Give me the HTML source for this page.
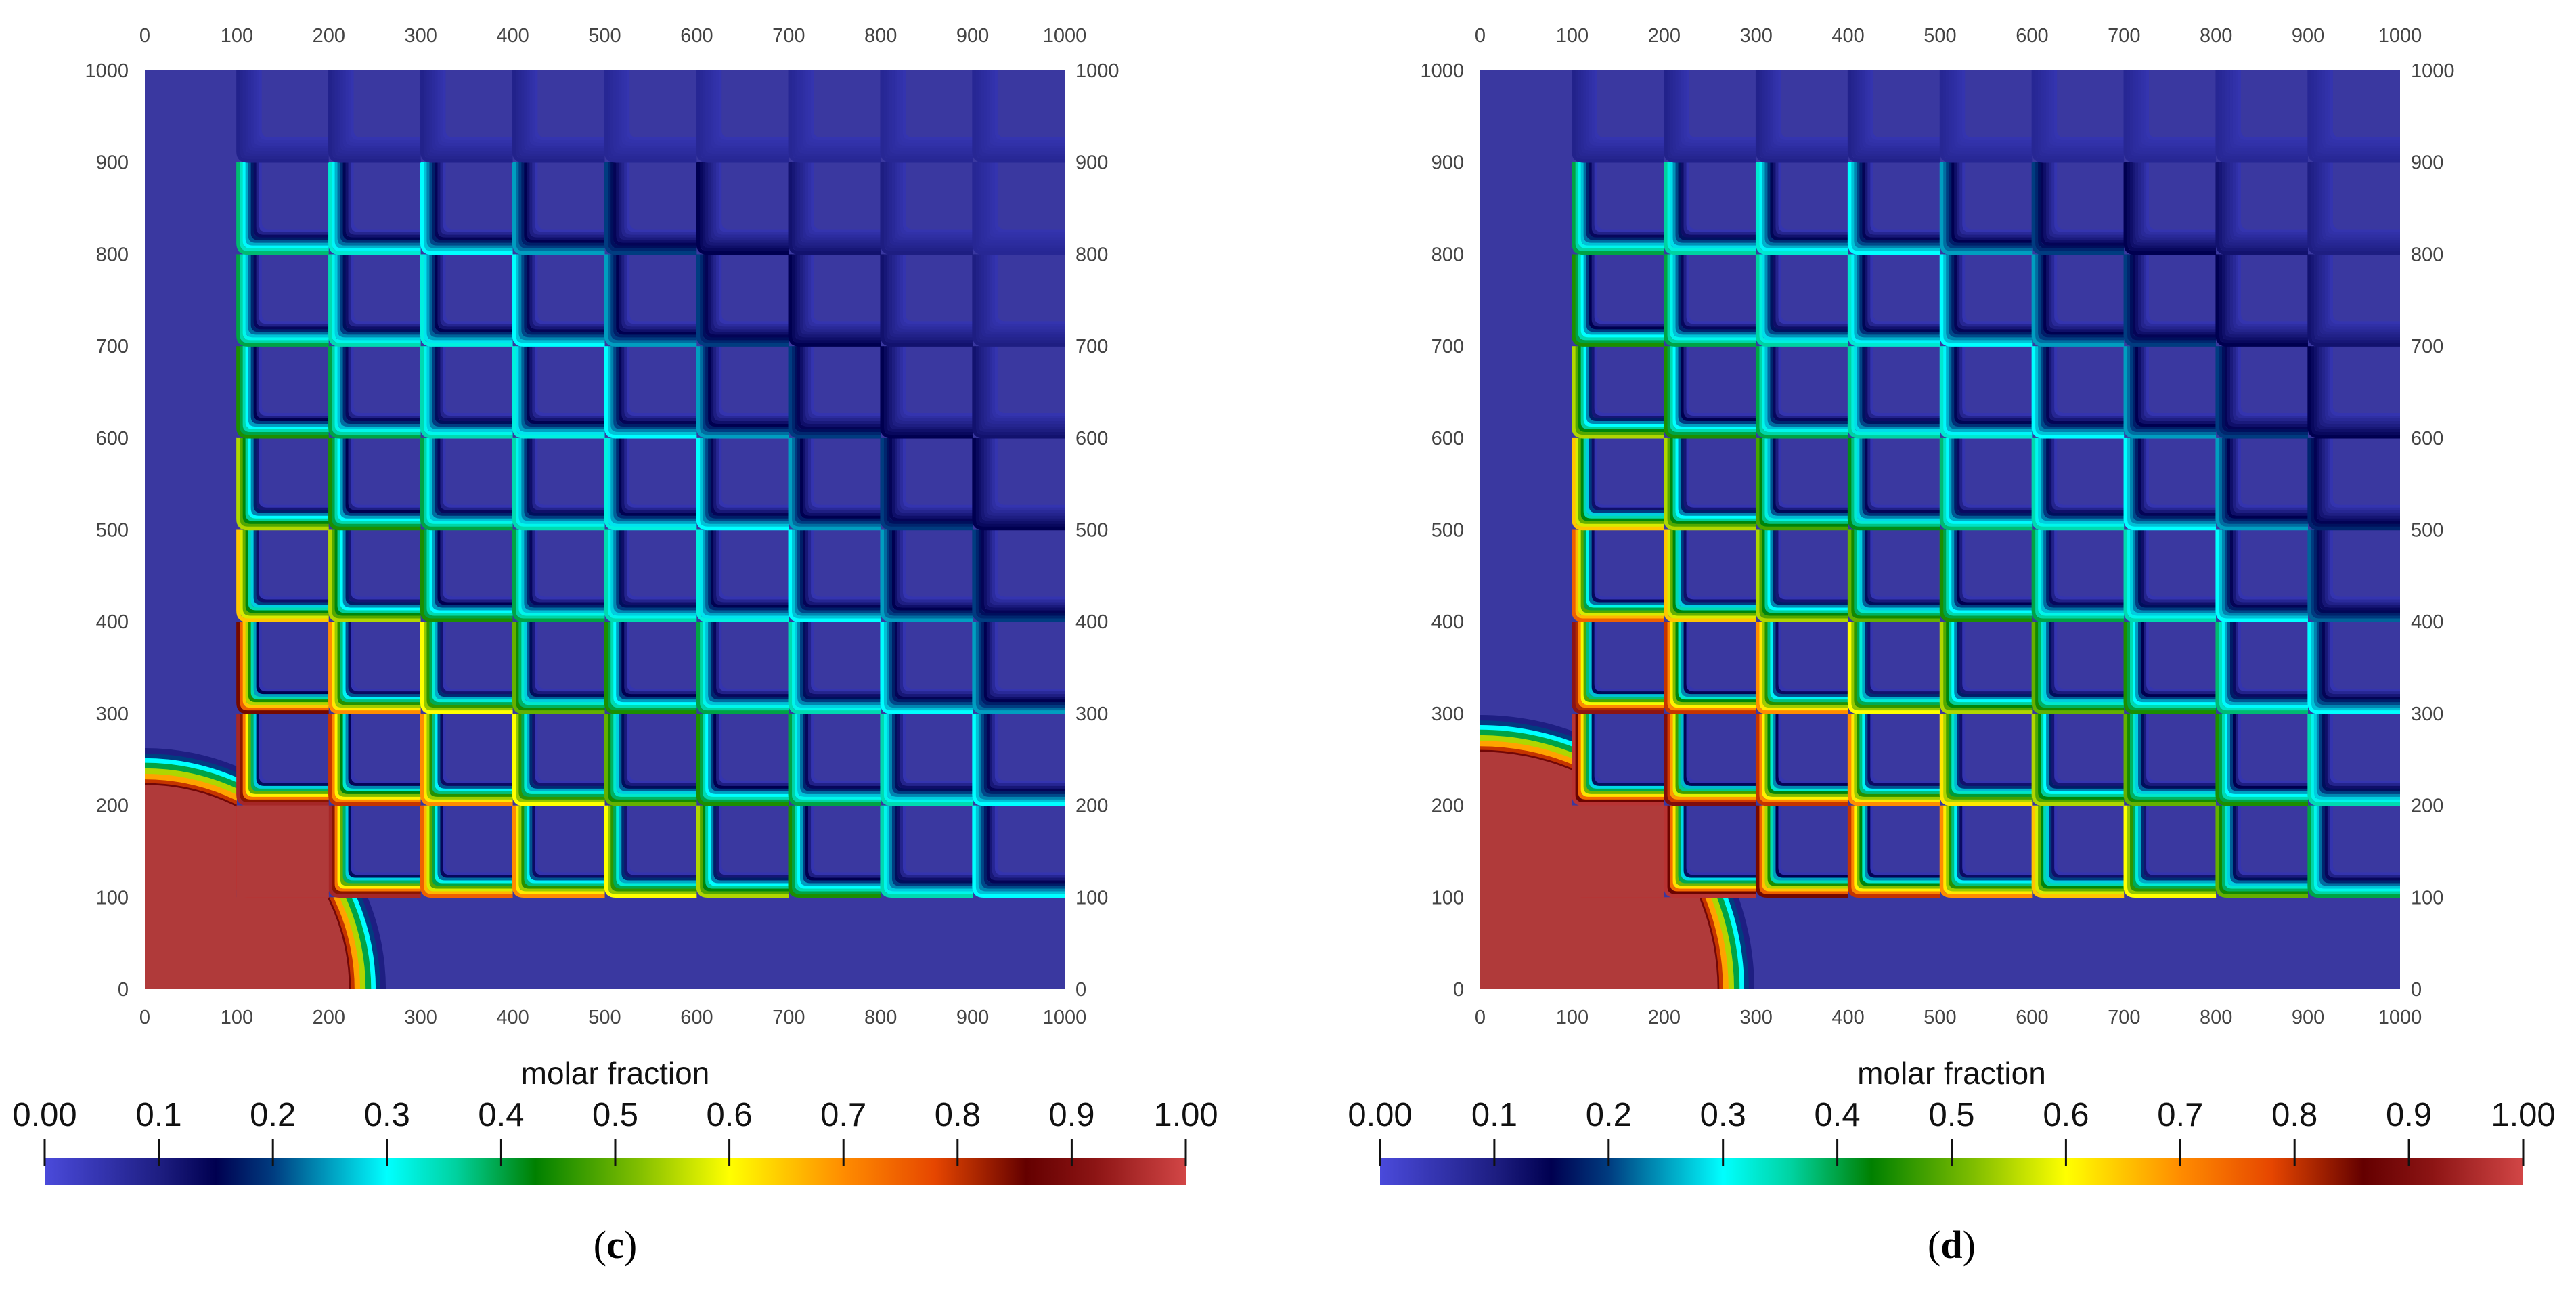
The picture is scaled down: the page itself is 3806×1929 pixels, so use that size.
<!DOCTYPE html>
<html><head><meta charset="utf-8">
<style>
html,body{margin:0;padding:0;background:#fff;}
svg{display:block;}
</style></head>
<body>
<svg id="fig" width="3806" height="1929" viewBox="0 0 3806 1929" xmlns="http://www.w3.org/2000/svg" font-family="Liberation Sans, sans-serif"></svg>
<script>
// ---- data ----
const tickValues = [0,100,200,300,400,500,600,700,800,900,1000];
const cbTicks = [0.0,0.1,0.2,0.3,0.4,0.5,0.6,0.7,0.8,0.9,1.0];
const cbLabels = ["0.00","0.1","0.2","0.3","0.4","0.5","0.6","0.7","0.8","0.9","1.00"];
// rows: y=100..200 (row0) up to y=900..1000 (row8); cols x=100..1000
const valuesC = [
 [0.97,0.95,0.75,0.70,0.60,0.55,0.45,0.35,0.30],
 [0.95,0.80,0.70,0.60,0.50,0.45,0.40,0.35,0.30],
 [0.85,0.70,0.60,0.50,0.45,0.40,0.35,0.30,0.25],
 [0.65,0.55,0.45,0.40,0.35,0.32,0.30,0.25,0.20],
 [0.55,0.45,0.40,0.35,0.32,0.30,0.25,0.20,0.15],
 [0.45,0.40,0.35,0.32,0.30,0.25,0.20,0.15,0.12],
 [0.40,0.35,0.32,0.30,0.25,0.20,0.15,0.12,0.10],
 [0.38,0.33,0.30,0.25,0.20,0.15,0.12,0.10,0.08],
 [0.09,0.09,0.09,0.09,0.08,0.08,0.08,0.08,0.08]
];
const valuesD = [
 [0.97,0.97,0.85,0.80,0.70,0.65,0.60,0.50,0.40],
 [0.97,0.90,0.80,0.70,0.62,0.55,0.50,0.45,0.35],
 [0.92,0.80,0.70,0.60,0.55,0.50,0.45,0.38,0.30],
 [0.75,0.65,0.55,0.50,0.45,0.40,0.35,0.30,0.22],
 [0.65,0.55,0.48,0.42,0.38,0.35,0.30,0.25,0.18],
 [0.55,0.45,0.40,0.36,0.33,0.30,0.25,0.20,0.15],
 [0.45,0.40,0.36,0.33,0.30,0.25,0.20,0.15,0.12],
 [0.40,0.36,0.33,0.30,0.25,0.20,0.15,0.12,0.10],
 [0.09,0.09,0.09,0.09,0.08,0.08,0.08,0.08,0.08]
];
const radiusC = 222;
const radiusD = 258;

const cmap = [
 [0.00,[74,74,219]],[0.10,[30,30,130]],[0.15,[0,0,80]],[0.20,[0,60,128]],
 [0.30,[0,255,255]],[0.36,[0,210,160]],[0.43,[0,128,0]],[0.52,[128,190,0]],
 [0.60,[255,255,0]],[0.70,[255,140,0]],[0.78,[230,70,0]],[0.86,[100,0,0]],
 [0.92,[140,20,20]],[1.00,[210,70,70]]
];
function cm(v){
  v=Math.max(0,Math.min(1,v));
  for(let i=1;i<cmap.length;i++){
    if(v<=cmap[i][0]){
      const a=cmap[i-1],b=cmap[i],t=(v-a[0])/(b[0]-a[0]);
      const c=a[1].map((x,k)=>Math.round(x+(b[1][k]-x)*t));
      return `rgb(${c[0]},${c[1]},${c[2]})`;
    }
  }
  return 'rgb(210,70,70)';
}
const NS="http://www.w3.org/2000/svg";
const svg=document.getElementById('fig');
function el(tag,attrs,parent){const e=document.createElementNS(NS,tag);for(const k in attrs)e.setAttribute(k,attrs[k]);(parent||svg).appendChild(e);return e;}
const BG='rgb(58,56,160)';
const RED='rgb(176,58,58)';

function panel(id,ox,values,radius,label,cbx0,cbx1){
  const x0=ox, x1=ox+1359, y0=1461, y1=104;
  const sx=v=>x0+(x1-x0)*v/1000;
  const sy=v=>y0-(y0-y1)*v/1000;
  const g=el('g',{});
  
  
  const clipId='clip-'+id;
  const cp=el('clipPath',{id:clipId},g); el('rect',{x:x0,y:y1,width:x1-x0,height:y0-y1},cp);
  const pg=el('g',{'clip-path':`url(#${clipId})`},g);
  const bg=el('rect',{x:x0,y:y1,width:x1-x0,height:y0-y1,fill:BG},pg);
  
  
  const rings=[[0.1,40],[0.2,34],[0.3,29],[0.4,24],[0.55,18],[0.68,12],[0.8,6],[0.88,2]];
  const cg=el('g',{},pg);
  
  
  rings.forEach(r=>{
    const rr=(radius+r[1])*(x1-x0)/1000;
    el('circle',{cx:x0,cy:y0,r:rr,fill:cm(r[0])},cg);
  });
  el('circle',{cx:x0,cy:y0,r:radius*(x1-x0)/1000,fill:RED},cg);
  const cw=(x1-x0)/10;
  for(let r=0;r<values.length;r++){
    for(let c=0;c<values[r].length;c++){
      const v=values[r][c];
      const L=sx(100+c*100), R=sx(200+c*100), B=sy(100+r*100), T=sy(200+r*100);
      const cell=el('g',{},pg);
      
      
      el('rect',{x:L,y:T,width:cw,height:B-T,fill:BG},cell);
      const n=9, step=4, vend=0.05;
      for(let k=n-1;k>=0;k--){
        const d=2+k*step;
        const val=v-(v-vend)*(k/(n-1));
        const rad=14;
        const p=`M${L+d},${T} L${L+d},${B-d-rad} Q${L+d},${B-d} ${L+d+rad},${B-d} L${R},${B-d}`;
        el('path',{d:p,fill:'none',stroke:cm(val),'stroke-width':step+1.5},cell);
      }
    }
  }
  const rb=el('rect',{x:sx(100),y:sy(200),width:cw,height:cw,fill:RED},pg);
  
  
  const tg=el('g',{'font-size':29,fill:'#444'},g);
  
  
  tickValues.forEach(t=>{
    let e=el('text',{x:sx(t),y:62,'text-anchor':'middle'},tg); e.textContent=t;
    e=el('text',{x:sx(t),y:1512,'text-anchor':'middle'},tg); e.textContent=t;
    e=el('text',{x:x0-24,y:sy(t)+10,'text-anchor':'end'},tg); e.textContent=t;
    e=el('text',{x:x1+16,y:sy(t)+10,'text-anchor':'start'},tg); e.textContent=t;
  });
  const gid='grad-'+id;
  const lg=el('linearGradient',{id:gid,x1:0,x2:1,y1:0,y2:0},svg);
  for(let i=0;i<=100;i++) el('stop',{offset:i/100,'stop-color':cm(i/100)},lg);
  const cb=el('g',{},svg);
  
  
  el('rect',{x:cbx0,y:1711,width:cbx1-cbx0,height:39,fill:`url(#${gid})`},cb);
  const t=el('text',{x:(cbx0+cbx1)/2,y:1601,'text-anchor':'middle','font-size':46,fill:'#111'},cb);
  
  
  t.textContent='molar fraction';
  cbTicks.forEach((v,i)=>{
    const x=cbx0+(cbx1-cbx0)*v;
    el('line',{x1:x,y1:1683,x2:x,y2:1722,stroke:'#111','stroke-width':3},cb);
    const tx=el('text',{x:x,y:1663,'text-anchor':'middle','font-size':49,fill:'#111'},cb);
    tx.textContent=cbLabels[i];
  });
  const cap=el('text',{x:(cbx0+cbx1)/2,y:1858,'text-anchor':'middle','font-size':58,fill:'#000','font-family':'Liberation Serif, serif'},svg);
  
  
  cap.innerHTML='(<tspan font-weight="bold">'+label+'</tspan>)';
}
panel('c',214,valuesC,radiusC,'c',66,1752);
panel('d',2187,valuesD,radiusD,'d',2039,3728);
</script>
</body></html>
